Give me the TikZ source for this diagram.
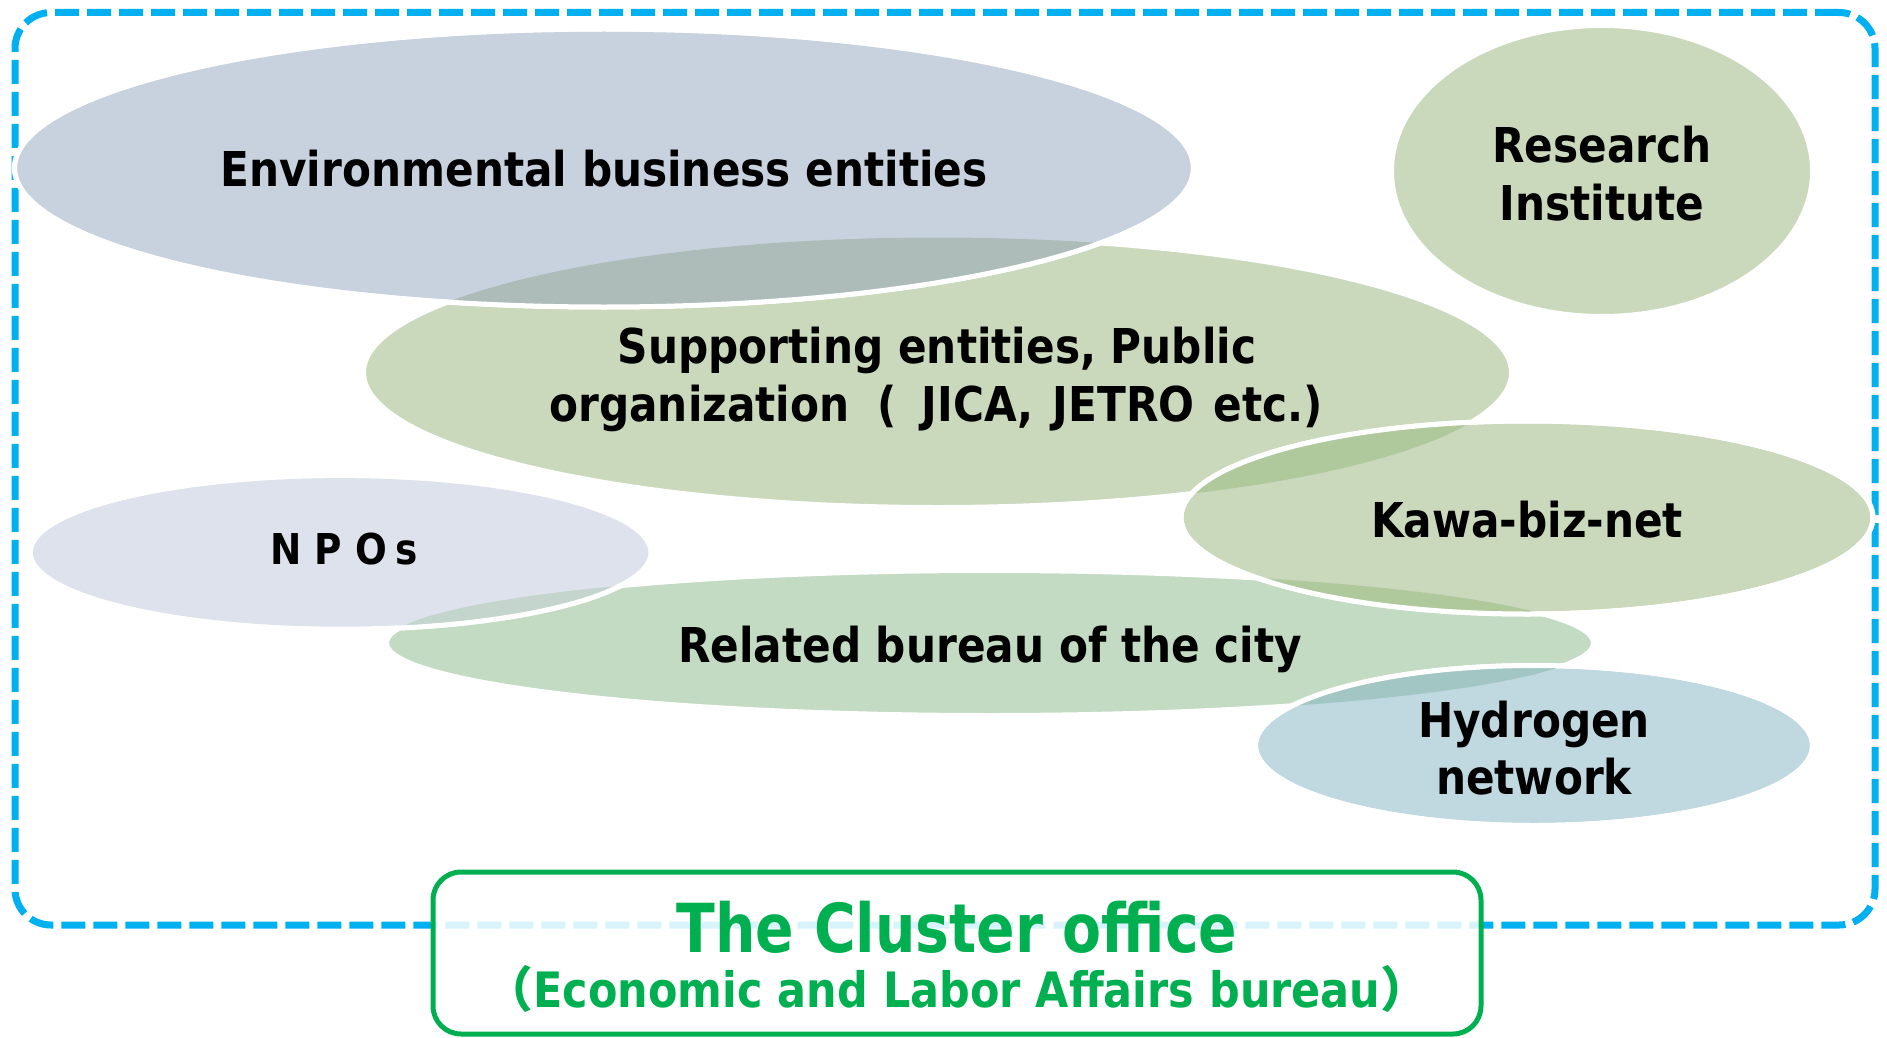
\documentclass[tikz,border=0pt]{standalone}
\usepackage{fontspec}
\usetikzlibrary{shapes.geometric}
\newfontfamily\lblfont[FakeStretch=0.88]{DejaVu Sans}
\newfontfamily\clufont[FakeStretch=0.84]{DejaVu Sans}
\newfontfamily\cjk{Noto Sans CJK JP}
\definecolor{cblue}{HTML}{00B0F0}
\definecolor{cgreen}{HTML}{00B050}
\definecolor{cenv}{HTML}{C8D2DF}
\definecolor{csup}{HTML}{CAD8BC}
\definecolor{crel}{HTML}{C3DAC3}
\definecolor{chyd}{HTML}{C0D8DF}
\definecolor{cnpo}{HTML}{DEE2EC}
\definecolor{oenvsup}{HTML}{ADBCB8}
\definecolor{okawa}{HTML}{AFC89C}
\definecolor{ohyd}{HTML}{A2C6C4}
\definecolor{onpo}{HTML}{C4D5CD}
\tikzset{
  blob/.style={ellipse, inner sep=0pt, outer sep=0pt, draw=white, line width=5pt},
  lbl/.style={font=\lblfont\bfseries\fontsize{48}{58}\selectfont, anchor=base, inner sep=0pt, text=black},
  rim/.style={draw=white, line width=5pt},
}
\begin{document}
\begin{tikzpicture}[x=1pt,y=-1pt]
\useasboundingbox (0,0) rectangle (1887,1038);
% dashed frame
\node[draw=cblue, line width=7pt, dash pattern=on 24pt off 8pt, rounded corners=36pt,
      minimum width=1860pt, minimum height=912.5pt, inner sep=0pt] (frame) at (945,468.75) {};
% lower layer ellipses
\node[blob, fill=csup, minimum width=1148pt, minimum height=270pt] (sup) at (937.5,372.5) {};
\node[blob, fill=crel, minimum width=1207pt, minimum height=145pt] (rel) at (990,643) {};
\node[blob, fill=csup, minimum width=421pt, minimum height=291pt] (res) at (1602,171) {};
% environmental
\node[blob, fill=cenv, minimum width=1179pt, minimum height=278pt] (env) at (604,168) {};
\begin{scope}
  \clip (env.center) ellipse [x radius=589.5pt, y radius=139pt];
  \fill[oenvsup] (sup.center) ellipse [x radius=574pt, y radius=135pt];
\end{scope}
\draw[rim] (env.center) ellipse [x radius=589.5pt, y radius=139pt];
% kawa
\node[blob, fill=csup, minimum width=692pt, minimum height=193pt] (kawa) at (1527,517.5) {};
\begin{scope}
  \clip (kawa.center) ellipse [x radius=346pt, y radius=96.5pt];
  \fill[okawa] (sup.center) ellipse [x radius=574pt, y radius=135pt];
  \fill[okawa] (rel.center) ellipse [x radius=603.5pt, y radius=72.5pt];
\end{scope}
\draw[rim] (kawa.center) ellipse [x radius=346pt, y radius=96.5pt];
% NPO
\node[blob, fill=cnpo, minimum width=621pt, minimum height=154pt] (npo) at (340.6,552.4) {};
\begin{scope}
  \clip (npo.center) ellipse [x radius=310.5pt, y radius=77pt];
  \fill[onpo] (rel.center) ellipse [x radius=603.5pt, y radius=72.5pt];
\end{scope}
\draw[rim] (npo.center) ellipse [x radius=310.5pt, y radius=77pt];
% hydrogen
\node[blob, fill=chyd, minimum width=557pt, minimum height=160pt] (hyd) at (1534,745.5) {};
\begin{scope}
  \clip (hyd.center) ellipse [x radius=278.5pt, y radius=80pt];
  \fill[ohyd] (rel.center) ellipse [x radius=603.5pt, y radius=72.5pt];
\end{scope}
\draw[rim] (hyd.center) ellipse [x radius=278.5pt, y radius=80pt];
% labels
\node[lbl] (envt) at (604,186) {Environmental business entities};
\node[lbl] (res1) at (1602,162) {Research};
\node[lbl] (res2) at (1602,220) {Institute};
\node[lbl] (sup1) at (937,363) {Supporting entities, Public};
\node[lbl] (sup2) at (936,421) {organization\hspace{28pt}(\hspace{25pt}JICA,\hspace{19pt}JETRO\hspace{19pt}etc.)};
\node[lbl] (kawat) at (1527,537) {Kawa-biz-net};
\node[lbl, font=\lblfont\bfseries\fontsize{42.5}{50}\selectfont] (npot) at (344,564) {N P O\kern 8pt s};
\node[lbl] (relt) at (990,662) {Related bureau of the city};
\node[lbl] (hyd1) at (1534,737) {Hydrogen};
\node[lbl] (hyd2) at (1534,794) {network};
% cluster office
\node[draw=cgreen, line width=5pt, fill=white, fill opacity=0.85, rounded corners=28pt,
      minimum width=1048pt, minimum height=162pt, inner sep=0pt] (office) at (957,953) {};
\node[anchor=base, inner sep=0pt, text=cgreen, font=\clufont\bfseries\fontsize{67.6}{70}\selectfont] (off1) at (957,952.7) {The Cluster office};
\node[anchor=base, inner sep=0pt, text=cgreen, font=\lblfont\bfseries\fontsize{48.8}{55}\selectfont] (off2) at (957,1007.3) {{\cjk （}Economic and Labor Affairs bureau{\cjk ）}};
\end{tikzpicture}
\end{document}
